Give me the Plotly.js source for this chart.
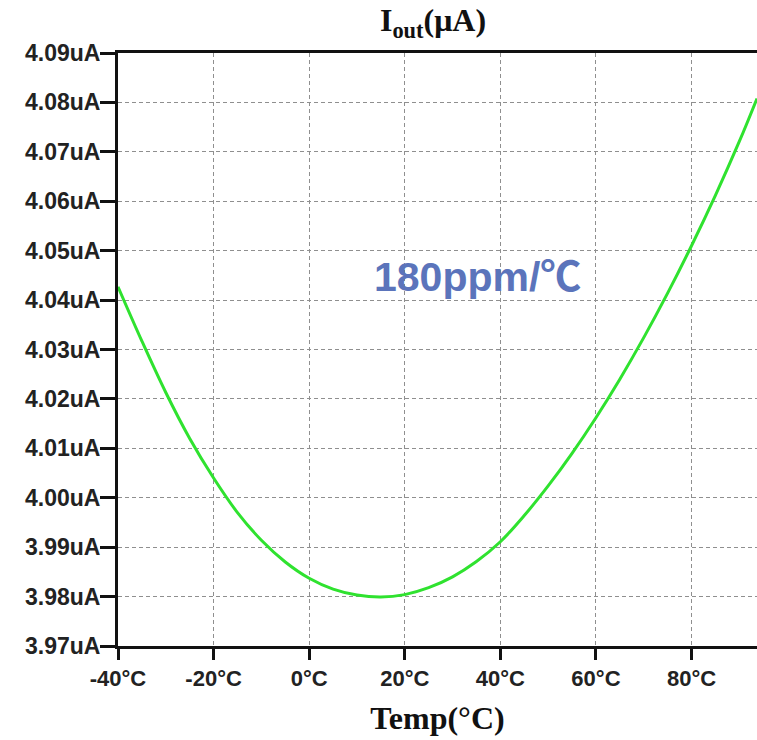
<!DOCTYPE html>
<html>
<head>
<meta charset="utf-8">
<script src="https://cdn.plot.ly/plotly-3.0.1.min.js"></script>
<style>html,body{margin:0;padding:0;background:#fff;}#chart{width:757px;height:740px;}</style>
</head>
<body>
<div id="chart"></div>
<script>
const tempC = [-40, -35, -30, -25, -20, -15, -10, -5, 0, 5, 10, 15, 20, 25, 30, 35, 40, 45, 50, 55, 60, 65, 70, 75, 80, 85, 90, 93.7];
const ioutUA = [4.0427, 4.0317, 4.0213, 4.0120, 4.0040, 3.9970, 3.9914, 3.9870, 3.9837, 3.9815, 3.9803, 3.9799, 3.9804, 3.9818, 3.9840, 3.9871, 3.9911, 3.9964, 4.0024, 4.0090, 4.0162, 4.0240, 4.0324, 4.0414, 4.0510, 4.0612, 4.0721, 4.0808];
const xTickVals = [-40, -20, 0, 20, 40, 60, 80];
const xTickText = ['-40°C', '-20°C', '0°C', '20°C', '40°C', '60°C', '80°C'];
const yTickVals = [3.97, 3.98, 3.99, 4.00, 4.01, 4.02, 4.03, 4.04, 4.05, 4.06, 4.07, 4.08, 4.09];
const yTickText = ['3.97uA', '3.98uA', '3.99uA', '4.00uA', '4.01uA', '4.02uA', '4.03uA', '4.04uA', '4.05uA', '4.06uA', '4.07uA', '4.08uA', '4.09uA'];
const annotationText = '180ppm/℃';

const sans = 'Liberation Sans, Arial, sans-serif';
const serif = 'Liberation Serif, Times New Roman, serif';

const trace = {
  x: tempC, y: ioutUA, type: 'scatter', mode: 'lines',
  line: {color: '#2fe22f', width: 3, shape: 'spline', smoothing: 1},
  hoverinfo: 'skip', showlegend: false
};

const layout = {
  width: 757, height: 740,
  margin: {l: 118, r: 0, t: 53, b: 94},
  paper_bgcolor: '#ffffff', plot_bgcolor: '#ffffff',
  title: {
    text: 'I<sub>out</sub>(μA)',
    font: {family: serif, size: 32, color: '#111', weight: 'bold'},
    xref: 'paper', x: 0.493, xanchor: 'center',
    yref: 'container', y: 0.973, yanchor: 'middle'
  },
  xaxis: {
    range: [-40, 93.7],
    tickvals: xTickVals, ticktext: xTickText,
    tickfont: {family: sans, size: 22, color: '#222', weight: 'bold'},
    ticks: 'outside', ticklen: 11, tickwidth: 3, tickcolor: '#111',
    showline: true, linecolor: '#111', linewidth: 3, mirror: true,
    showgrid: true, gridcolor: '#8f8f8f', gridwidth: 1, griddash: '4px,3px',
    zeroline: false,
    title: {text: 'Temp(°C)', font: {family: serif, size: 32, color: '#111', weight: 'bold'}, standoff: 17}
  },
  yaxis: {
    range: [3.97, 4.09],
    tickvals: yTickVals, ticktext: yTickText,
    tickfont: {family: sans, size: 23, color: '#222', weight: 'bold'},
    ticks: 'outside', ticklen: 15, tickwidth: 3, tickcolor: '#111',
    ticklabelstandoff: -5,
    showline: true, linecolor: '#111', linewidth: 3,
    showgrid: true, gridcolor: '#8f8f8f', gridwidth: 1, griddash: '4px,3px',
    zeroline: false
  },
  annotations: [{
    x: 35.3, y: 4.0447, xref: 'x', yref: 'y',
    text: annotationText, showarrow: false,
    font: {family: 'Liberation Sans, Arial, Noto Sans CJK SC, sans-serif', size: 41, color: '#5b74bb', weight: 'bold'},
    xanchor: 'center', yanchor: 'middle'
  }]
};

Plotly.newPlot('chart', [trace], layout, {displayModeBar: false, staticPlot: true});
</script>
</body>
</html>
